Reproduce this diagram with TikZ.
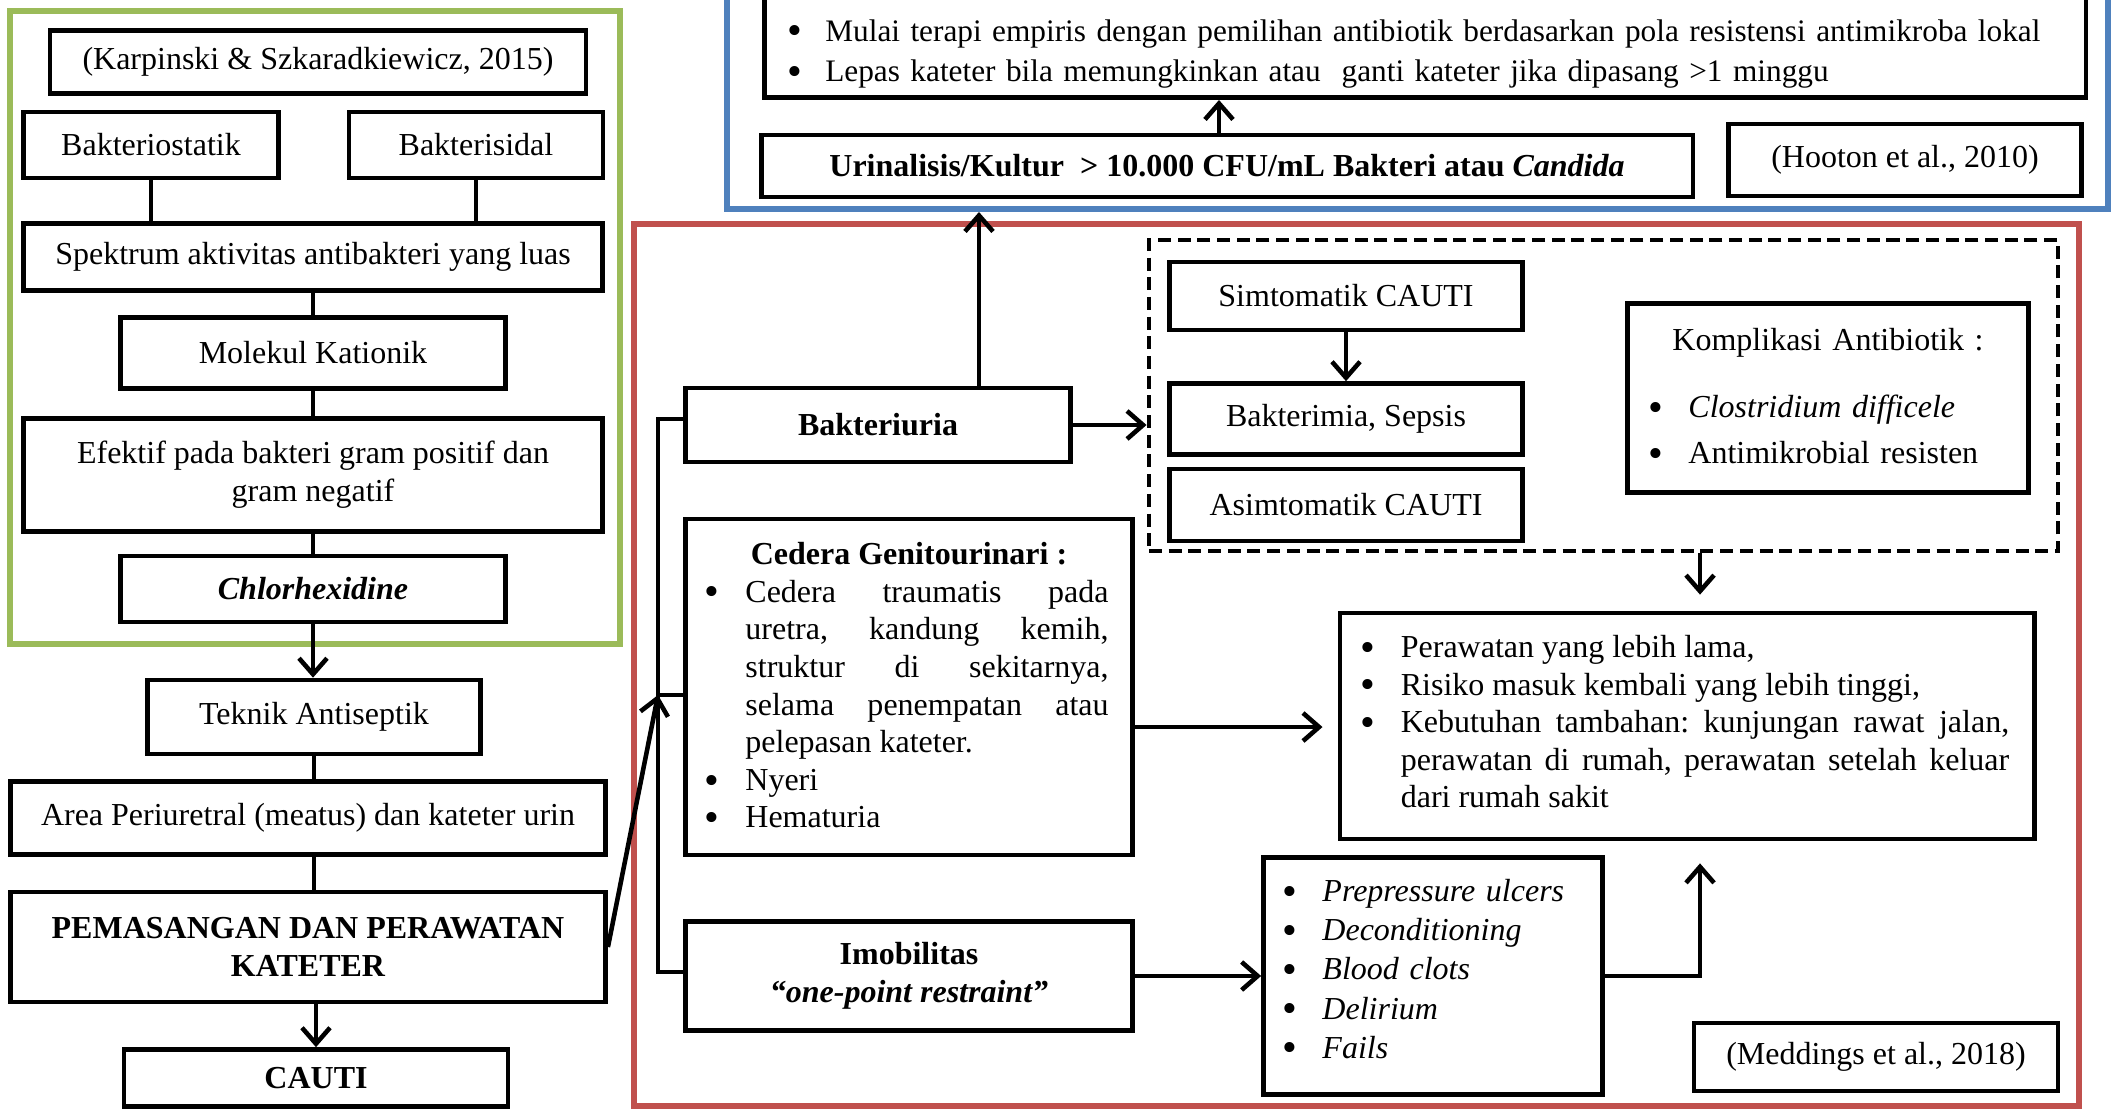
\documentclass[tikz,border=0pt]{standalone}
\usepackage{fontspec}
\setmainfont{Liberation Serif}
\usepackage{enumitem}
\usepackage{tikz}
\usetikzlibrary{positioning,fit,arrows.meta}
\definecolor{frgreen}{HTML}{9BBB59}
\definecolor{frblue}{HTML}{4F81BD}
\definecolor{frred}{HTML}{C0504D}
\pgfdeclarelayer{frames}
\pgfsetlayers{frames,main}
\newcommand{\nodefont}{\fontsize{9.1}{10.7}\selectfont}
\newcommand{\bigbullet}{\raisebox{-0.25ex}{\fontsize{12}{12}\selectfont\textbullet}}
\def\boxlw{1.3pt}
\def\framelw{1.7pt}
\tikzstyle{box}=[rectangle,fill=white,draw=black,line width=\boxlw,align=center,inner sep=0pt,font=\nodefont]
\tikzstyle{boldbox}=[box,font=\nodefont\bfseries]
\tikzstyle{listbox}=[box,align=left,inner ysep=0.09cm]
\tikzstyle{greenframe}=[draw=frgreen,line width=\framelw,inner sep=0pt]
\tikzstyle{blueframe}=[draw=frblue,line width=\framelw,inner sep=0pt]
\tikzstyle{redframe}=[draw=frred,line width=\framelw,inner sep=0pt]
\tikzstyle{dashframe}=[draw=black,line width=1.4pt,dash pattern=on 3.7pt off 1.9pt,inner sep=0pt]
\tikzstyle{link}=[line width=\boxlw]
\tikzstyle{myarrow}=[line width=\boxlw,-{Straight Barb[length=1.6mm,width=2.8mm]}]
\hyphenpenalty=10000
\exhyphenpenalty=10000
\tolerance=9999
\frenchspacing
\setlist[itemize]{nosep,label=\bigbullet,leftmargin=3.5mm,labelsep=2.5mm}

\begin{document}
\begin{tikzpicture}[x=0.01cm,y=-0.01cm]
	\useasboundingbox (0,0) rectangle (2112,1113);

	% chlorhexidine column
	\node[box,minimum width=5.36cm,minimum height=0.63cm] (karp) at (318,62) {(Karpinski \& Szkaradkiewicz, 2015)};
	\node[box,minimum width=2.55cm,minimum height=0.66cm] (bstat) at (151,145) {Bakteriostatik};
	\node[box,minimum width=2.54cm,minimum height=0.66cm] (bsid) at (476,145) {Bakterisidal};
	\node[box,minimum width=5.79cm,minimum height=0.67cm] (spek) at (313,257) {Spektrum aktivitas antibakteri yang luas};
	\node[box,minimum width=3.85cm,minimum height=0.71cm] (molek) at (313,353) {Molekul Kationik};
	\node[box,minimum width=5.79cm,minimum height=1.13cm] (efek) at (313,475) {Efektif pada bakteri gram positif dan\\gram negatif};
	\node[boldbox,minimum width=3.85cm,minimum height=0.66cm] (chlor) at (313,589) {\textit{Chlorhexidine}};

	% catheter column
	\node[box,minimum width=3.33cm,minimum height=0.74cm] (teknik) at (314,717) {Teknik Antiseptik};
	\node[box,minimum width=5.95cm,minimum height=0.73cm] (area) at (308,818) {Area Periuretral (meatus) dan kateter urin};
	\node[boldbox,minimum width=5.95cm,minimum height=1.10cm] (pemas) at (308,947) {PEMASANGAN DAN PERAWATAN\\KATETER};
	\node[boldbox,minimum width=3.84cm,minimum height=0.57cm] (cauti) at (316,1078) {CAUTI};

	% urinalysis
	\node[listbox,anchor=south west,text width=12.65cm,inner xsep=0.28cm,font=\fontsize{8.9}{10.7}\selectfont] (terapi) at (762,100) {\vspace*{0.4cm}%
		\begin{itemize}[leftmargin=3.3mm,labelsep=2.3mm,itemsep=0.3mm]
			\item Mulai terapi empiris dengan pemilihan antibiotik berdasarkan pola resistensi antimikroba lokal
			\item Lepas kateter bila memungkinkan atau\ \ ganti kateter jika dipasang >1 minggu
		\end{itemize}};
	\node[boldbox,minimum width=9.31cm,minimum height=0.62cm] (urin) at (1227,166) {Urinalisis/Kultur\ \ > 10.000 CFU/mL Bakteri atau \textit{Candida}};
	\node[box,minimum width=3.53cm,minimum height=0.72cm] (hooton) at (1905,160) {(Hooton et al., 2010)};

	% complications
	\node[boldbox,minimum width=3.85cm,minimum height=0.74cm] (bakt) at (878,425) {Bakteriuria};
	\node[listbox,align=justify,text width=3.99cm,inner xsep=0.24cm,minimum height=3.36cm] (ceder) at (909,687) {%
		\centerline{\bfseries Cedera Genitourinari :}
		\begin{itemize}[leftmargin=3.6mm,labelsep=2.6mm]
			\item Cedera traumatis pada uretra, kandung kemih, struktur di sekitarnya, selama penempatan atau pelepasan kateter.
			\item Nyeri
			\item Hematuria
		\end{itemize}};
	\node[boldbox,minimum width=4.47cm,minimum height=1.09cm] (imob) at (909,976) {Imobilitas\\\textit{“one-point restraint”}};
	\node[box,minimum width=3.53cm,minimum height=0.68cm] (simt) at (1346,296) {Simtomatik CAUTI};
	\node[box,minimum width=3.53cm,minimum height=0.71cm] (bakm) at (1346,419) {Bakterimia, Sepsis};
	\node[box,minimum width=3.53cm,minimum height=0.72cm] (asimt) at (1346,505) {Asimtomatik CAUTI};
	\node[listbox,text width=3.49cm,inner xsep=0.26cm,minimum height=1.89cm] (kompl) at (1828,398) {%
		\centerline{Komplikasi Antibiotik :\rule[-4.1mm]{0pt}{0pt}}
		\begin{itemize}[itemsep=0.8mm]
			\item \textit{Clostridium difficele}
			\item Antimikrobial resisten
		\end{itemize}};
	\node[listbox,align=justify,text width=6.44cm,inner xsep=0.25cm,minimum height=2.26cm] (perw) at (1687,726) {\vspace*{-0.24cm}%
		\begin{itemize}[leftmargin=3.6mm,labelsep=2.6mm]
			\item Perawatan yang lebih lama,
			\item Risiko masuk kembali yang lebih tinggi,
			\item Kebutuhan tambahan: kunjungan rawat jalan, perawatan di rumah, perawatan setelah keluar dari rumah sakit
		\end{itemize}};
	\node[listbox,text width=2.91cm,inner xsep=0.24cm,minimum height=2.37cm] (prep) at (1433,976) {\vspace*{-0.26cm}%
		\begin{itemize}[itemsep=0.15mm]
			\item \textit{Prepressure ulcers}
			\item \textit{Deconditioning}
			\item \textit{Blood clots}
			\item \textit{Delirium}
			\item \textit{Fails}
		\end{itemize}};
	\node[box,minimum width=3.64cm,minimum height=0.68cm] (medd) at (1876,1057) {(Meddings et al., 2018)};

	\begin{pgfonlayer}{frames}
		\node[greenframe,fit={(10,11) (620,644)}] (gframe) {};
		\node[blueframe,fit={(727,-40) (2108,209)}] (bframe) {};
		\node[redframe,fit={(634,224) (2079,1106)}] (rframe) {};
		\node[dashframe,fit={(1149,240) (2058,551)}] (dframe) {};
	\end{pgfonlayer}

	% connections
	\draw[link] (bstat) -- (bstat |- spek.north);
	\draw[link] (bsid) -- (bsid |- spek.north);
	\draw[link] (spek) -- (molek);
	\draw[link] (molek) -- (efek);
	\draw[link] (efek) -- (chlor);
	\draw[myarrow] (chlor.south) -- (chlor.south |- teknik.north);
	\draw[link] (teknik.south) -- (teknik.south |- area.north);
	\draw[link] (area.south -| teknik.south) -- (teknik.south |- pemas.north);
	\draw[myarrow] (pemas.south -| cauti.north) -- (cauti.north);

	\coordinate (bx) at (658,695);
	\coordinate (upx) at (979,0);
	\draw[link] (bakt.west |- 0,419) -| (bx) |- (imob.west |- 0,972);
	\draw[link] (bx) -- (bx -| ceder.west);
	\draw[myarrow] (pemas.east) -- (bx);
	\draw[myarrow] (bakt.north -| upx) -- (upx |- bframe.south);
	\draw[myarrow] ([xshift=-0.08cm]urin.north) -- ([xshift=-0.08cm]urin.north |- terapi.south);
	\draw[myarrow] (bakt.east) -- (bakt.east -| dframe.west);
	\draw[myarrow] (simt) -- (bakm);
	\draw[myarrow,shorten >=0.16cm] ([xshift=0.13cm]perw.north |- dframe.south) -- ([xshift=0.13cm]perw.north);
	\draw[myarrow,shorten >=0.15cm] ([yshift=-0.4cm]ceder.east) -- ([yshift=-0.4cm]ceder.east -| perw.west);
	\draw[myarrow] (imob) -- (prep);
	\draw[myarrow,shorten >=0.22cm] (prep.east) -| ([xshift=0.13cm]perw.south);
\end{tikzpicture}
\end{document}
